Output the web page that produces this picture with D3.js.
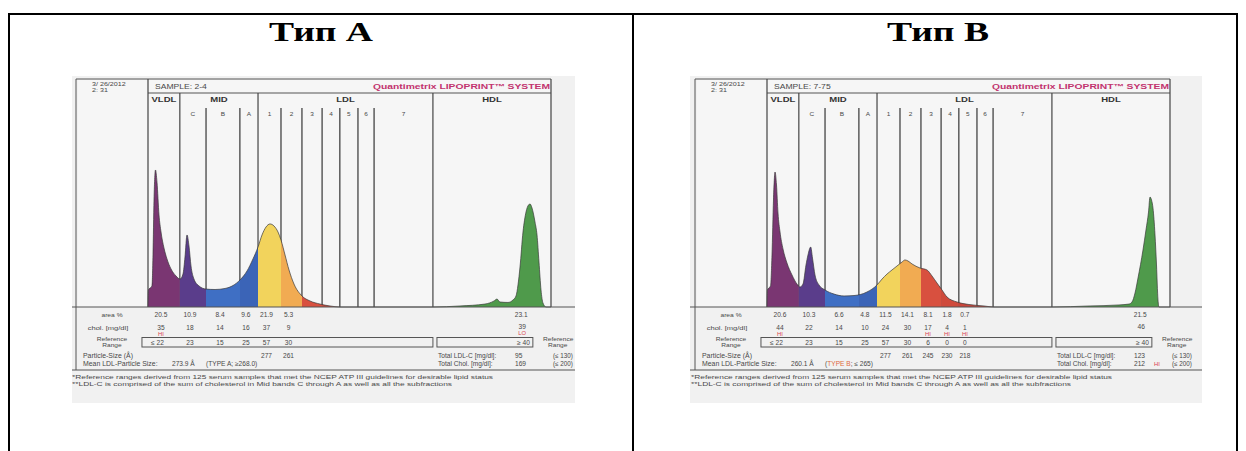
<!DOCTYPE html>
<html><head><meta charset="utf-8">
<script src="https://cdn.jsdelivr.net/npm/d3@7"></script>
<style>body{margin:0;background:#fff}svg{display:block}</style>
</head><body>
<svg id="c" width="1246" height="451"></svg>
<script>
// ---------- data ----------
const titles = ["Тип А", "Тип В"];
const samples = ["2-4", "7-75"];
const bandNames = ["VLDL","C","B","A","1","2","3","4","5","6","7","HDL"];
const groupNames = ["VLDL","MID","LDL","HDL"];
// electrophoretic mobility (0..100) of band boundaries
const bandEdges = [0, 7.9, 14.4, 22.8, 27.3, 33.0, 38.2, 43.2, 47.6, 52.1, 56.1, 70.7, 100];
const groupEdges = [0, 7.9, 27.3, 70.7, 100];
const bandColors = ["#7a3672","#5a3d8b","#3f6fc4","#3b64b7","#f2d35c","#f1ab52","#d8503f","#cf4a3c","#c9453a","#c64237","#c64237","#4f9a4b"];

// densitometric profile: [mobility, intensity]
const profileA = [[0,0],[0.12,11.6],[0.99,14.3],[1.24,35.4],[1.49,72.8],[1.86,93.2],[2.23,85.0],[2.73,62.6],[3.23,51.0],[3.97,40.1],[4.71,32.7],[5.71,25.9],[6.95,21.1],[7.94,19.0],[8.68,22.4],[9.18,34.0],[9.68,49.0],[10.17,41.5],[10.67,27.9],[11.41,19.0],[12.66,14.3],[14.39,12.2],[16.63,11.9],[19.11,12.6],[21.09,14.6],[22.83,18.4],[24.57,24.5],[26.05,32.7],[27.3,40.8],[28.29,49.0],[29.28,54.4],[30.27,56.5],[31.27,55.1],[32.26,51.0],[33.0,45.6],[34.0,35.4],[34.99,25.2],[36.23,15.6],[38.21,7.5],[40.2,4.1],[42.68,2.0],[45.16,0.7],[47.64,0],
  [70.72,0],[77.4,0.7],[83.6,2.0],[85.86,4.1],[86.6,5.4],[87.34,3.4],[89.33,3.1],[90.57,4.8],[91.32,7.5],[91.81,15.0],[92.31,27.2],[93.05,51.0],[93.8,64.6],[94.42,69.4],[94.79,70.1],[95.29,67.3],[96.03,57.8],[96.53,49.0],[97.02,30.6],[97.52,11.6],[98.01,2.7],[98.76,0],[100,0]];
const profileB = [[0,0],[0.12,11.6],[0.87,14.3],[1.24,35.4],[1.61,72.8],[1.99,91.8],[2.36,83.0],[2.73,63.9],[3.23,51.0],[3.97,39.5],[4.96,29.9],[6.2,21.8],[7.44,15.6],[8.19,13.6],[8.93,15.6],[9.68,28.6],[10.17,35.4],[10.84,40.8],[11.29,33.3],[11.91,21.8],[12.9,15.0],[14.39,11.6],[16.63,8.8],[19.11,7.5],[21.59,7.8],[24.81,10.2],[27.3,15.0],[28.54,19.0],[29.78,22.4],[31.02,25.2],[32.26,27.9],[33.5,30.6],[34.24,32.0],[34.99,31.3],[35.98,29.3],[37.97,26.5],[39.7,25.2],[40.94,21.1],[42.18,16.3],[43.42,11.6],[44.67,6.8],[47.15,3.4],[50.12,1.7],[53.85,0.7],[56.33,0],
  [70.72,0],[79.9,0.7],[87.34,1.4],[89.83,2.0],[90.57,3.4],[91.32,9.5],[92.06,19.7],[93.3,38.8],[94.04,52.4],[94.67,64.6],[95.04,74.8],[95.41,72.8],[95.78,67.3],[96.28,49.0],[96.65,28.6],[97.02,4.8],[97.27,0],[100,0]];

const areaA = ["20.5","10.9","8.4","9.6","21.9","5.3"];
const areaB = ["20.6","10.3","6.6","4.8","11.5","14.1","8.1","1.8","0.7"];
const areaHdl = ["23.1","21.5"];
const cholA = ["35","18","14","16","37","9"];
const cholB = ["44","22","14","10","24","30","17","4","1"];
const cholFlagA = ["HI","","","","",""];
const cholFlagB = ["HI","","","","","","HI","HI","HI"];
const cholHdl = ["39","46"];
const cholHdlFlag = ["LO",""];
const refA = ["≤ 22","23","15","25","57","30"];
const refB = ["≤ 22","23","15","25","57","30","6","0","0"];
const refHdl = "≥ 40";
const sizeA = ["","","","","277","261"];
const sizeB = ["","","","","277","261","245","230","218"];
const meanSize = ["273.9 Å","260.1 Å"];
const typeLabel = ["TYPE A","TYPE B"];
const typeRef = ["; ≥268.0)","; ≤ 265)"];
const totalLdl = ["95","123"];
const totalChol = ["169","212"];
const totalCholFlag = ["","HI"];

// ---------- drawing ----------
const svg = d3.select("#c");
svg.append("rect").attr("width",1246).attr("height",451).attr("fill","#fff");

const SANS = "'Liberation Sans',Arial,sans-serif";
const INK = "#484848", RED = "#d9414e", PINK = "#c2336e";
function T(g,x,y,s,o={}){
  const t = g.append("text")
    .attr("transform",`translate(${x},${y}) scale(${o.sx||1.15},1)`)
    .attr("font-family",o.ff||SANS).attr("font-size",o.fs||6)
    .attr("font-weight",o.fw||"normal").attr("fill",o.fill||INK)
    .attr("text-anchor",o.a||"start").text(s);
  if(o.tl) t.attr("textLength",o.tl).attr("lengthAdjust","spacingAndGlyphs");
  return t;
}

// table frame
const frame = svg.append("g").attr("stroke","#000").attr("stroke-width",2);
frame.append("line").attr("x1",9).attr("x2",1238).attr("y1",14).attr("y2",14);
[9,633,1237].forEach(xx=>frame.append("line").attr("x1",xx).attr("x2",xx).attr("y1",13).attr("y2",451));

// titles
T(svg,269,41,titles[0],{ff:"'Liberation Serif','Times New Roman',serif",fs:27,fw:"bold",fill:"#000",sx:1,tl:104});
T(svg,887,41,titles[1],{ff:"'Liberation Serif','Times New Roman',serif",fs:27,fw:"bold",fill:"#000",sx:1,tl:102});

const panels = [
  {id:0, dx:0, paper:[72,575], profile:profileA, area:areaA, chol:cholA, flag:cholFlagA, ref:refA, size:sizeA},
  {id:1, dx:619, paper:[71,583], profile:profileB, area:areaB, chol:cholB, flag:cholFlagB, ref:refB, size:sizeB}
];

panels.forEach(p=>{
  const g = svg.append("g").attr("transform",`translate(${p.dx},0)`);
  const defs = g.append("defs");
  defs.append("clipPath").attr("id","paper"+p.id).append("rect")
    .attr("x",p.paper[0]).attr("y",76).attr("width",p.paper[1]-p.paper[0]).attr("height",327);
  const c = g.append("g").attr("clip-path",`url(#paper${p.id})`);
  c.append("rect").attr("x",p.paper[0]).attr("y",76).attr("width",p.paper[1]-p.paper[0]).attr("height",327).attr("fill","#f1f1f1");
  c.append("rect").attr("x",78).attr("y",80).attr("width",473).attr("height",227).attr("fill","#f6f6f6");

  const x = d3.scaleLinear().domain([0,100]).range([148,551]);
  const y = d3.scaleLinear().domain([0,100]).range([307,160]);

  // grid / frame lines
  const L = (x1,y1,x2,y2,w,col)=>c.append("line").attr("x1",x1).attr("y1",y1).attr("x2",x2).attr("y2",y2)
     .attr("stroke",col||"#555").attr("stroke-width",w||1);
  L(76,79,x(100),79,1);
  L(76,79,76,370,1);
  L(x(0),93,x(100),93,1);
  L(x(0),79,x(0),307,1.2,"#444");
  L(x(100),79,x(100),307,1.2,"#444");
  groupEdges.slice(1,-1).forEach(e=>L(x(e),93,x(e),307,1.2,"#444"));
  bandEdges.slice(1,-1).filter(e=>!groupEdges.includes(e)).forEach(e=>L(x(e),108,x(e),307,1.3,"#444"));

  // header texts
  T(c,92,86,"3/ 26/2012",{fs:5.5,sx:1.3});
  T(c,92,92,"2: 31",{fs:5.5,sx:1.3});
  T(c,155,89,"SAMPLE:  "+samples[p.id],{fs:6.6,sx:1.3});
  T(c,373,89,"Quantimetrix LIPOPRINT™ SYSTEM",{fs:7.2,fw:"bold",fill:PINK,sx:1,tl:177});
  groupNames.forEach((n,i)=>T(c,x((groupEdges[i]+groupEdges[i+1])/2),102,n,{fs:6.8,fw:"bold",a:"middle",sx:1.4,fill:"#333"}));
  bandNames.slice(1,11).forEach((n,i)=>T(c,x((bandEdges[i+1]+bandEdges[i+2])/2),116,n,{fs:5.4,a:"middle",sx:1.2}));

  // profile fills per band
  const area = d3.area().x(d=>x(d[0])).y0(y(0)).y1(d=>y(d[1])).curve(d3.curveMonotoneX);
  const line = d3.line().x(d=>x(d[0])).y(d=>y(d[1])).curve(d3.curveMonotoneX);
  bandColors.forEach((col,i)=>{
    const id = `b${p.id}_${i}`;
    defs.append("clipPath").attr("id",id).append("rect")
      .attr("x",x(bandEdges[i])).attr("y",100).attr("width",x(bandEdges[i+1])-x(bandEdges[i])).attr("height",220);
    c.append("path").datum(p.profile).attr("d",area).attr("fill",col).attr("clip-path",`url(#${id})`);
  });
  c.append("path").datum(p.profile).attr("d",line).attr("fill","none").attr("stroke","#3a3a3a").attr("stroke-width",0.7);

  L(p.paper[0],307,p.paper[1],307,1.2,"#555");
  L(p.paper[0],370,p.paper[1],370,1.2,"#555");

  // data rows
  const col = i=>x((bandEdges[i]+bandEdges[i+1])/2)-3;
  const hx = x(92.6);
  const NF = 6.6;
  T(c,112,317,"area %",{fs:5.8,a:"middle"});
  T(c,108,330,"chol. [mg/dl]",{fs:5.8,a:"middle",sx:1.3});
  T(c,112,341,"Reference",{fs:5.5,a:"middle",sx:1.2});
  T(c,112,346.5,"Range",{fs:5.5,a:"middle",sx:1.2});
  p.area.forEach((v,i)=>T(c,col(i),317,v,{fs:NF,a:"middle",sx:1}));
  p.chol.forEach((v,i)=>T(c,col(i),330,v,{fs:NF,a:"middle",sx:1}));
  p.flag.forEach((v,i)=>{ if(v) T(c,col(i),335.5,v,{fs:5.3,a:"middle",sx:1.1,fill:RED}); });
  T(c,hx,317,areaHdl[p.id],{fs:NF,a:"middle",sx:1});
  T(c,hx+1,329,cholHdl[p.id],{fs:NF,a:"middle",sx:1});
  if(cholHdlFlag[p.id]) T(c,hx+1,335,cholHdlFlag[p.id],{fs:5.3,a:"middle",sx:1.1,fill:RED});

  c.append("rect").attr("x",x(-1.5)).attr("y",337.5).attr("width",x(70.7)-x(-1.5)).attr("height",9.5)
    .attr("fill","none").attr("stroke","#555").attr("stroke-width",1);
  c.append("rect").attr("x",x(71.7)).attr("y",337.5).attr("width",x(95.5)-x(71.7)).attr("height",9.5)
    .attr("fill","none").attr("stroke","#555").attr("stroke-width",1);
  p.ref.forEach((v,i)=>{
    if(v.startsWith("≤")) T(c,col(i)+3,345,v,{fs:NF,a:"end",sx:1});
    else T(c,col(i),345,v,{fs:NF,a:"middle",sx:1});
  });
  T(c,x(95.5)-3,345,refHdl,{fs:NF,a:"end",sx:1});
  T(c,543,341,"Reference",{fs:5.5,sx:1.2});
  T(c,548,346.5,"Range",{fs:5.5,sx:1.2});

  T(c,83,358,"Particle-Size (Å)",{fs:6.3,sx:1.1});
  p.size.forEach((v,i)=>{ if(v) T(c,col(i),358,v,{fs:NF,a:"middle",sx:1}); });
  T(c,83,366,"Mean LDL-Particle Size:",{fs:6.3,sx:1.1});
  T(c,172,366,meanSize[p.id],{fs:6.3,sx:1.05});
  const tt = T(c,206,366,"(",{fs:6.3,sx:1.05});
  tt.append("tspan").attr("fill",p.id===1?"#e06a40":INK).text(typeLabel[p.id]);
  tt.append("tspan").text(typeRef[p.id]);

  T(c,438,358,"Total LDL-C [mg/dl]:",{fs:6.3,sx:1.05});
  T(c,515,358,totalLdl[p.id],{fs:NF,sx:1});
  T(c,553,358,"(≤ 130)",{fs:6.3,sx:1});
  T(c,438,366,"Total Chol. [mg/dl]:",{fs:6.3,sx:1.05});
  T(c,515,366,totalChol[p.id],{fs:NF,sx:1});
  if(totalCholFlag[p.id]) T(c,535,366,totalCholFlag[p.id],{fs:5.8,sx:1,fill:RED});
  T(c,553,366,"(≤ 200)",{fs:6.3,sx:1});

  T(c,72,379,"*Reference ranges derived from 125 serum samples that met the NCEP ATP III guidelines for desirable lipid status",{fs:6,sx:1,tl:421});
  T(c,72,385.5,"**LDL-C is comprised of the sum of cholesterol in Mid bands C through A as well as all the subfractions",{fs:6,sx:1,tl:380});
});
</script>
</body></html>
